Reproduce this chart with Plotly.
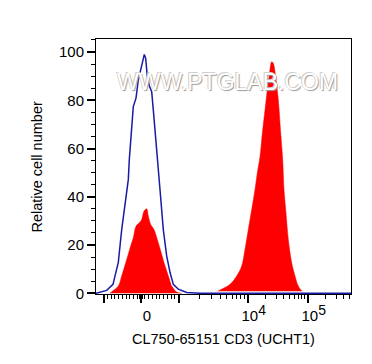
import numpy as np
import plotly.graph_objects as go

# ---------------- data (display channel units on biexponential axis) ----------------
blue_x = [0.0, 10.7, 17.0, 22.3, 25.7, 29.7, 32.3, 33.3, 35.7, 37.3, 40.0, 42.3, 44.7,
          46.7, 48.3, 49.7, 51.3, 53.3, 55.7, 57.3, 60.0, 62.3, 64.0, 67.3, 70.7,
          74.0, 77.3, 82.3, 90.7, 104.0, 255.0]
blue_y = [0.0, 1.2, 3.7, 12.8, 26.4, 38.8, 47.1, 55.4, 70.7, 77.4, 80.9, 88.4, 92.6,
          96.0, 99.0, 97.4, 89.8, 86.0, 83.6, 76.0, 63.6, 49.9, 43.0, 26.4, 15.4,
          8.7, 3.7, 1.7, 0.3, 0.0, 0.0]

red_x = [14.0, 17.0, 22.3, 25.7, 30.7, 34.7, 37.3, 40.0, 43.3, 45.7, 48.0, 50.7, 52.3,
         54.7, 58.0, 61.3, 64.7, 68.0, 71.3, 74.7, 78.0, 80.7, 85.7,
         117.3, 125.7, 134.0, 140.7, 145.7, 149.0, 152.3, 155.7, 159.0, 161.3, 164.0,
         166.7, 169.0, 171.3, 173.3, 175.7, 177.3, 180.0, 182.3, 184.7, 186.7, 188.0,
         190.0, 192.3, 195.7, 199.0, 202.3, 205.7, 210.7]
red_y = [0.0, 1.0, 3.0, 7.2, 14.0, 19.6, 23.0, 27.8, 29.2, 30.6, 34.0, 35.0, 32.0,
         28.5, 26.4, 22.3, 17.5, 12.7, 8.5, 4.4, 1.7, 0.5, 0.0,
         0.0, 1.7, 3.7, 7.2, 11.3, 18.2, 26.4, 34.7, 43.0, 49.9, 56.7, 67.8, 76.0,
         84.3, 90.5, 96.0, 95.3, 88.4, 80.2, 66.5, 55.4, 43.0, 33.3, 22.3, 12.7,
         7.2, 3.0, 1.0, 0.0]

major_vals = [-1000, 0, 1000, 1e4, 1e5]
SUP = "<sup><span style='font-size:14px'>%s</span></sup>"
major_text = ["", "0", "", "10" + SUP % "4", "10" + SUP % "5"]
minor_vals = ([-v for v in range(100, 1000, 100)] + [-50, 50] + list(range(100, 1000, 100))
              + [m * 1e3 for m in range(2, 10)] + [m * 1e4 for m in range(2, 10)]
              + [m * 1e5 for m in range(2, 6)])
y_ticks = [0, 20, 40, 60, 80, 100]

x_title = "CL750-65151 CD3 (UCHT1)"
y_title = "Relative cell number"
watermark = "WWW.PTGLAB.COM"


# ---------------- biexponential display scale ----------------
def biex(v):
    v = float(v)
    s = 1 if v >= 0 else -1
    a = abs(v)
    if a <= 1000:
        d = 0.0375 * a
    elif a <= 1e4:
        d = 37.5 + 69.2 * (np.log10(a) - 3)
    else:
        d = 37.5 + 69.2 + 60.0 * (np.log10(a) - 4)
    return 45.0 + s * d


FONT = "Liberation Sans, Arial, sans-serif"

fig = go.Figure()
for sl in (slice(0, 23), slice(23, None)):
    fig.add_trace(go.Scatter(x=red_x[sl], y=red_y[sl], mode="lines", fill="tozeroy",
                             fillcolor="#ff0000", line=dict(color="#ff0000", width=0.5),
                             line_shape="spline", hoverinfo="skip", showlegend=False))
fig.add_trace(go.Scatter(x=blue_x, y=blue_y, mode="lines",
                         line=dict(color="white", width=4),
                         hoverinfo="skip", showlegend=False))
fig.add_trace(go.Scatter(x=blue_x, y=blue_y, mode="lines",
                         line=dict(color="#1a1aa8", width=1.5),
                         hoverinfo="skip", showlegend=False))

fig.add_annotation(x=0.515, y=0.89, xref="paper", yref="paper", text=watermark,
                   showarrow=False,
                   font=dict(family=FONT, size=23, color="#ffffff",
                             shadow="1px 1px 1px #999999, -1px -1px 0px #d0d0d0"))

fig.add_annotation(x=0.5, y=-0.176, xref="paper", yref="paper", text=x_title,
                   showarrow=False, yanchor="middle",
                   font=dict(family=FONT, size=14.5, color="black"))
fig.add_annotation(x=-0.235, y=0.5, xref="paper", yref="paper", text=y_title,
                   showarrow=False, textangle=-90, xanchor="center",
                   font=dict(family=FONT, size=14.5, color="black"))

fig.update_layout(
    width=372, height=364,
    margin=dict(l=96, r=21, t=39, b=70),
    paper_bgcolor="white", plot_bgcolor="white",
    font=dict(family=FONT, size=15, color="black"),
    xaxis=dict(range=[0, 255], tickmode="array", automargin=False,
               tickvals=[biex(v) for v in major_vals], ticktext=major_text,
               ticklabelshift=6,
               ticks="outside", ticklen=8, tickwidth=1.5, tickcolor="black",
               minor=dict(tickmode="array", tickvals=[biex(v) for v in minor_vals],
                          ticks="outside", ticklen=4, tickwidth=1, tickcolor="black"),
               showgrid=False, zeroline=False, showline=True, linecolor="black",
               linewidth=1, mirror=True),
    yaxis=dict(range=[-0.3, 105.4], tickmode="array", tickvals=y_ticks, automargin=False,
               ticks="outside", ticklen=8, tickwidth=1.5, tickcolor="black",
               minor=dict(dtick=5, ticks="outside", ticklen=4, tickwidth=1,
                          tickcolor="black"),
               showgrid=False, zeroline=False, showline=True, linecolor="black",
               linewidth=1, mirror=True),
)

fig.write_html("out.html", config={"displayModeBar": False},
               post_script="document.body.style.margin='0';")
